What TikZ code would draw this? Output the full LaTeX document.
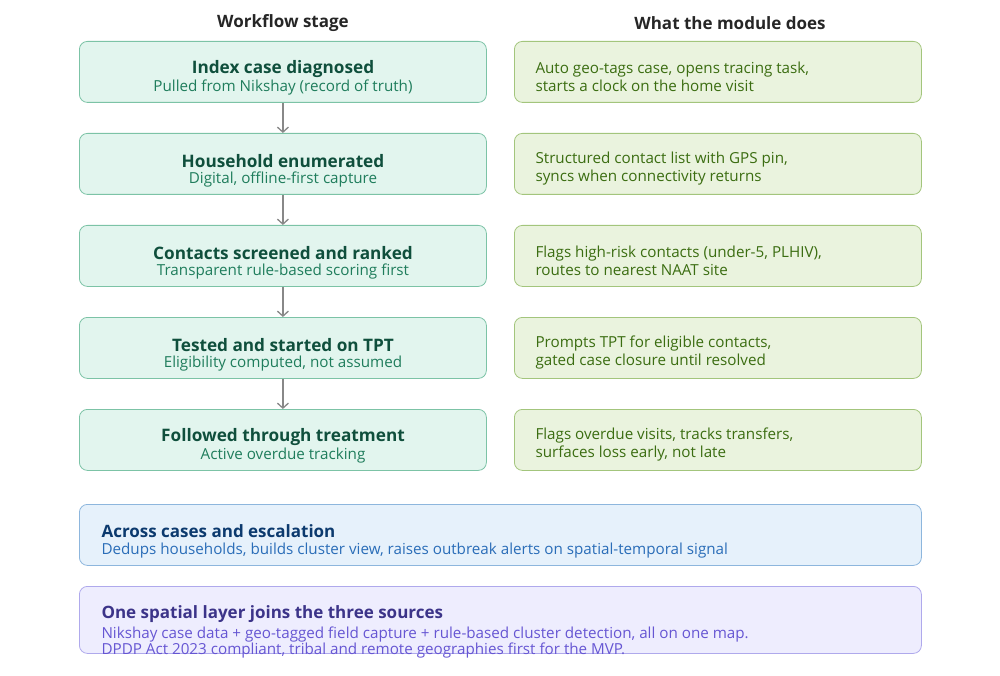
\documentclass[tikz,border=0pt]{standalone}
\usepackage{fontspec}
\setmainfont{Open Sans}
\usetikzlibrary{arrows.meta}
\definecolor{gfill}{HTML}{E2F5EE}
\definecolor{gdraw}{HTML}{7CC3A6}
\definecolor{gtitle}{HTML}{0F4F3C}
\definecolor{gsub}{HTML}{1F7D5C}
\definecolor{lfill}{HTML}{EAF3DE}
\definecolor{ldraw}{HTML}{A3C57C}
\definecolor{ltext}{HTML}{3B6D11}
\definecolor{bfill}{HTML}{E6F1FB}
\definecolor{bdraw}{HTML}{8DB6DD}
\definecolor{btitle}{HTML}{0C3A6E}
\definecolor{btext}{HTML}{2A6DB8}
\definecolor{pfill}{HTML}{EEEDFE}
\definecolor{pdraw}{HTML}{AFA9EC}
\definecolor{ptitle}{HTML}{3C3489}
\definecolor{ptext}{HTML}{6656D3}
\definecolor{arrgray}{HTML}{888888}
\tikzset{
  box/.style={rounded corners=8pt, line width=0.8pt, anchor=north west, inner sep=0pt},
  stagebox/.style={box, fill=gfill, draw=gdraw, minimum width=407pt, minimum height=61pt},
  modbox/.style={box, fill=lfill, draw=ldraw, minimum width=407pt, minimum height=61pt},
  widebox/.style={box, minimum width=842pt, minimum height=61pt},
  head/.style={font=\fontsize{17}{20}\selectfont\bfseries, text=black!85},
  stitle/.style={font=\fontsize{17.2}{20}\selectfont\bfseries, text=gtitle},
  ssub/.style={font=\fontsize{15.2}{18}\selectfont, text=gsub},
  mtext/.style={font=\fontsize{15.2}{18}\selectfont, text=ltext, align=left, anchor=west},
  arr/.style={draw=arrgray, line width=1.3pt, -{Straight Barb[length=5pt,width=11pt]}},
}
\begin{document}
\begin{tikzpicture}[x=1pt,y=-1pt]
\useasboundingbox (0,0) rectangle (1000,676);
\node[head] (h1) at (283,23) {Workflow stage};
\node[head] (h2) at (730,23) {What the module does};
% left stage boxes
\node[stagebox] (s1) at (79,41) {};
\node[stagebox] (s2) at (79,133) {};
\node[stagebox] (s3) at (79,225) {};
\node[stagebox] (s4) at (79,317) {};
\node[stagebox] (s5) at (79,409) {};
\node[stitle] (t1) at (283,69) {Index case diagnosed};
\node[ssub] (u1) at (283,88) {Pulled from Nikshay (record of truth)};
\node[stitle] (t2) at (283,161) {Household enumerated};
\node[ssub] (u2) at (283,180) {Digital, offline-first capture};
\node[stitle] (t3) at (283,253) {Contacts screened and ranked};
\node[ssub] (u3) at (283,272) {Transparent rule-based scoring first};
\node[stitle] (t4) at (283,345) {Tested and started on TPT};
\node[ssub] (u4) at (283,364) {Eligibility computed, not assumed};
\node[stitle] (t5) at (283,437) {Followed through treatment};
\node[ssub] (u5) at (283,456) {Active overdue tracking};
\draw[arr] (s1.south) -- (s2.north);
\draw[arr] (s2.south) -- (s3.north);
\draw[arr] (s3.south) -- (s4.north);
\draw[arr] (s4.south) -- (s5.north);
% right module boxes
\node[modbox] (m1) at (514,41) {};
\node[modbox] (m2) at (514,133) {};
\node[modbox] (m3) at (514,225) {};
\node[modbox] (m4) at (514,317) {};
\node[modbox] (m5) at (514,409) {};
\node[mtext] (x1) at (532,77) {Auto geo-tags case, opens tracing task,\\starts a clock on the home visit};
\node[mtext] (x2) at (532,169) {Structured contact list with GPS pin,\\syncs when connectivity returns};
\node[mtext] (x3) at (532,261) {Flags high-risk contacts (under-5, PLHIV),\\routes to nearest NAAT site};
\node[mtext] (x4) at (532,353) {Prompts TPT for eligible contacts,\\gated case closure until resolved};
\node[mtext] (x5) at (532,445) {Flags overdue visits, tracks transfers,\\surfaces loss early, not late};
% bottom boxes
\node[widebox, fill=bfill, draw=bdraw] (b1) at (79,504) {};
\node[font=\fontsize{17}{20}\selectfont\bfseries, text=btitle, anchor=west] (bt) at (98,531) {Across cases and escalation};
\node[font=\fontsize{15.2}{18}\selectfont, text=btext, anchor=west] (bx) at (98,550.5) {Dedups households, builds cluster view, raises outbreak alerts on spatial-temporal signal};
\node[widebox, fill=pfill, draw=pdraw, minimum height=67pt] (b2) at (79,586) {};
\node[font=\fontsize{17}{20}\selectfont\bfseries, text=ptitle, anchor=west] (pt) at (98,614) {One spatial layer joins the three sources};
\node[font=\fontsize{15.2}{16}\selectfont, text=ptext, anchor=west, align=left] (px) at (98,643) {Nikshay case data + geo-tagged field capture + rule-based cluster detection, all on one map.\\DPDP Act 2023 compliant, tribal and remote geographies first for the MVP.};
\end{tikzpicture}
\end{document}
